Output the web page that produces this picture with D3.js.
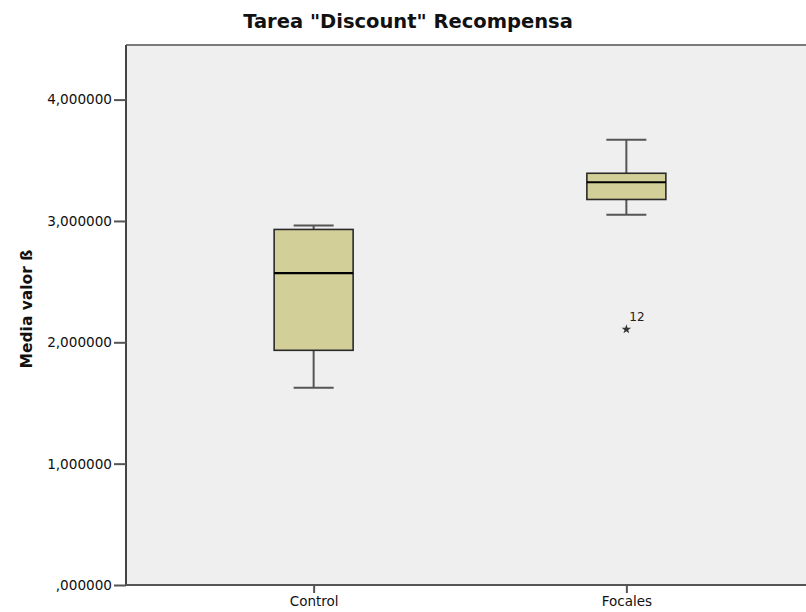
<!DOCTYPE html>
<html>
<head>
<meta charset="utf-8">
<script src="https://cdn.jsdelivr.net/npm/d3@7"></script>
<style>
  html, body { margin: 0; padding: 0; background: #ffffff; }
  svg { display: block; }
</style>
</head>
<body>
<script>
// Summary statistics per group (media valor ß)
const categories = ["Control", "Focales"];
const whiskerLow = [1.625, 3.051];
const quartile1 = [1.934, 3.177];
const medians = [2.570, 3.319];
const quartile3 = [2.930, 3.393];
const whiskerHigh = [2.963, 3.670];
const outlierGroup = ["Focales"];
const outlierValue = [2.107];
const outlierCase = ["12"];
const yTicks = [0, 1, 2, 3, 4];

const width = 806, height = 612;
const margin = { top: 45, left: 126, bottom: 585, right: 814 };

const svg = d3.select("body").append("svg")
  .attr("width", width).attr("height", height);

const x = d3.scalePoint().domain(categories)
  .range([margin.left, margin.right]).padding(0.6);
const y = d3.scaleLinear().domain([0, 4.45])
  .range([margin.bottom, margin.top]);

const fmt = v => d3.format(".6f")(v).replace(".", ",").replace(/^0,/, ",");

// plot background
svg.append("rect")
  .attr("x", margin.left).attr("y", margin.top)
  .attr("width", margin.right - margin.left)
  .attr("height", margin.bottom - margin.top)
  .attr("fill", "#efefef");

// frame: top edge
svg.append("line").attr("x1", margin.left).attr("x2", margin.right)
  .attr("y1", margin.top).attr("y2", margin.top)
  .attr("stroke", "#7a7a7a").attr("stroke-width", 2);

// y axis
const yAxis = d3.axisLeft(y).tickValues(yTicks).tickFormat(fmt).tickSize(12).tickPadding(2);
const gy = svg.append("g").attr("transform", `translate(${margin.left},0)`).call(yAxis);
gy.select(".domain").attr("stroke", "#444").attr("stroke-width", 2)
  .attr("d", `M0,${margin.top}V${margin.bottom}`);
gy.selectAll(".tick line").attr("stroke", "#555").attr("stroke-width", 2);
gy.selectAll(".tick text").attr("fill", "#111")
  .style("font-family", "'DejaVu Sans', sans-serif").style("font-size", "13.6px");

// x axis
const xAxis = d3.axisBottom(x).tickSize(8).tickPadding(3);
const gx = svg.append("g").attr("transform", `translate(0,${margin.bottom})`).call(xAxis);
gx.select(".domain").attr("stroke", "#555").attr("stroke-width", 2)
  .attr("d", `M${margin.left},0H${margin.right}`);
gx.selectAll(".tick line").attr("stroke", "#555").attr("stroke-width", 2);
gx.selectAll(".tick text").attr("fill", "#111")
  .style("font-family", "'DejaVu Sans', sans-serif").style("font-size", "13.5px");

// boxes
const boxW = 79, capW = 40;
const groups = svg.append("g").selectAll("g").data(categories).join("g")
  .attr("transform", d => `translate(${x(d)},0)`);

groups.append("line")
  .attr("y1", (d, i) => y(whiskerHigh[i])).attr("y2", (d, i) => y(quartile3[i]))
  .attr("stroke", "#555").attr("stroke-width", 2);
groups.append("line")
  .attr("y1", (d, i) => y(whiskerLow[i])).attr("y2", (d, i) => y(quartile1[i]))
  .attr("stroke", "#555").attr("stroke-width", 2);
groups.append("line")
  .attr("x1", -capW / 2).attr("x2", capW / 2)
  .attr("y1", (d, i) => y(whiskerHigh[i])).attr("y2", (d, i) => y(whiskerHigh[i]))
  .attr("stroke", "#555").attr("stroke-width", 2);
groups.append("line")
  .attr("x1", -capW / 2).attr("x2", capW / 2)
  .attr("y1", (d, i) => y(whiskerLow[i])).attr("y2", (d, i) => y(whiskerLow[i]))
  .attr("stroke", "#555").attr("stroke-width", 2);
groups.append("rect")
  .attr("x", -boxW / 2).attr("width", boxW)
  .attr("y", (d, i) => y(quartile3[i]))
  .attr("height", (d, i) => y(quartile1[i]) - y(quartile3[i]))
  .attr("fill", "#d3cf98").attr("stroke", "#2a2a2a").attr("stroke-width", 1.6);
groups.append("line")
  .attr("x1", -boxW / 2).attr("x2", boxW / 2)
  .attr("y1", (d, i) => y(medians[i])).attr("y2", (d, i) => y(medians[i]))
  .attr("stroke", "#000").attr("stroke-width", 2.2);

// extreme values
const ext = svg.append("g").selectAll("g").data(outlierValue).join("g")
  .attr("transform", (d, i) => `translate(${x(outlierGroup[i])},${y(d)})`);
ext.append("path")
  .attr("d", d3.symbol(d3.symbolStar, 28))
  .attr("fill", "#333");
ext.append("text")
  .attr("x", 3).attr("y", -8)
  .attr("fill", "#222")
  .style("font-family", "'DejaVu Sans', sans-serif").style("font-size", "12px")
  .text((d, i) => outlierCase[i]);

// title
svg.append("text")
  .attr("x", 408).attr("y", 28).attr("text-anchor", "middle")
  .attr("fill", "#111")
  .style("font-family", "'DejaVu Sans', sans-serif")
  .style("font-weight", "bold").style("font-size", "19.5px")
  .text('Tarea "Discount" Recompensa');

// y axis title
svg.append("text")
  .attr("transform", `translate(32,309) rotate(-90)`)
  .attr("text-anchor", "middle").attr("fill", "#111")
  .style("font-family", "'DejaVu Sans', sans-serif")
  .style("font-weight", "bold").style("font-size", "15.5px")
  .text("Media valor ß");
</script>
</body>
</html>
